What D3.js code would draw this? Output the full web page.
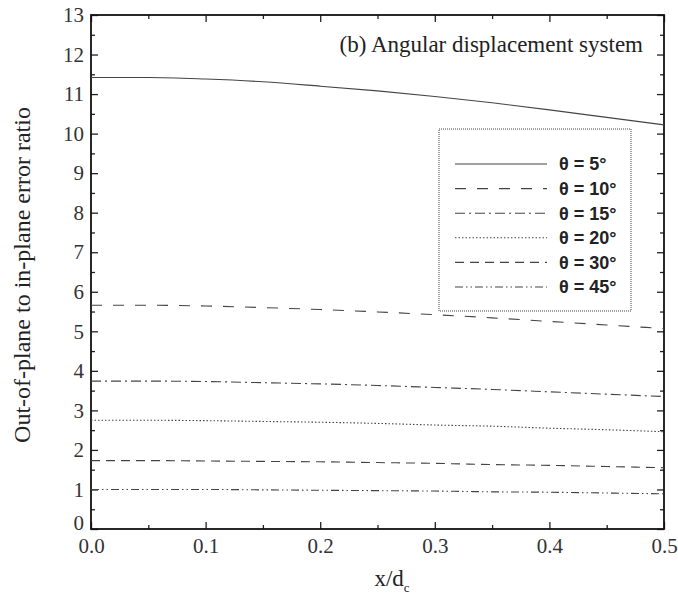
<!DOCTYPE html>
<html>
<head>
<meta charset="utf-8">
<script src="https://cdn.jsdelivr.net/npm/d3@7"></script>
<style>
  body { margin: 0; background: #fff; }
  svg { display: block; }
</style>
</head>
<body>
<div id="chart"></div>
<script>
// data
var xVals = [0, 0.05, 0.1, 0.15, 0.2, 0.25, 0.3, 0.35, 0.4, 0.45, 0.5];
var theta5  = [11.42, 11.42, 11.38, 11.31, 11.20, 11.08, 10.94, 10.78, 10.60, 10.41, 10.22];
var theta10 = [5.66, 5.66, 5.64, 5.60, 5.55, 5.49, 5.42, 5.34, 5.25, 5.16, 5.07];
var theta15 = [3.74, 3.74, 3.73, 3.70, 3.67, 3.63, 3.58, 3.53, 3.47, 3.41, 3.35];
var theta20 = [2.75, 2.75, 2.74, 2.72, 2.70, 2.67, 2.63, 2.60, 2.55, 2.51, 2.46];
var theta30 = [1.73, 1.73, 1.72, 1.71, 1.70, 1.68, 1.66, 1.63, 1.61, 1.58, 1.55];
var theta45 = [1.00, 1.00, 1.00, 0.99, 0.98, 0.97, 0.96, 0.94, 0.93, 0.91, 0.89];
var seriesNames = ["\u03b8 = 5\u00b0", "\u03b8 = 10\u00b0", "\u03b8 = 15\u00b0", "\u03b8 = 20\u00b0", "\u03b8 = 30\u00b0", "\u03b8 = 45\u00b0"];
var xTicks = [0, 0.1, 0.2, 0.3, 0.4, 0.5];
var yTicks = d3.range(0, 14);

var allSeries = [theta5, theta10, theta15, theta20, theta30, theta45];
var dashes = ["none", "11,11", "10,4,2,4", "1.5,2", "9,6", "8,3,1.5,3,1.5,3"];

var width = 678, height = 599;
var margin = {left: 91, top: 15, right: 14, bottom: 70};
var plotW = width - margin.left - margin.right;
var plotH = height - margin.top - margin.bottom;

var svg = d3.select("#chart").append("svg")
  .attr("width", width)
  .attr("height", height);

var x = d3.scaleLinear().domain([0, 0.5]).range([0, plotW]);
var y = d3.scaleLinear().domain([0, 13]).range([plotH, 0]);

var g = svg.append("g").attr("transform", "translate(" + margin.left + "," + margin.top + ")");

var serif = "'Liberation Serif', 'Times New Roman', serif";

// ticks on all four sides, pointing inwards
function addAxis(axis, tx, ty) {
  var ax = g.append("g").attr("transform", "translate(" + tx + "," + ty + ")").call(axis);
  ax.select(".domain").remove();
  ax.selectAll("line").attr("stroke", "#222").attr("stroke-width", 1.3);
  return ax;
}
var xMinor = d3.range(0.05, 0.5, 0.1);
var yMinor = d3.range(0.5, 13, 1);

var bottom = addAxis(d3.axisBottom(x).tickValues(xTicks).tickSize(-7).tickFormat(d3.format(".1f")), 0, plotH);
bottom.selectAll("text").attr("dy", "0.71em").attr("y", 9).style("font-family", serif).style("font-size", "21px").attr("fill", "#333");
addAxis(d3.axisBottom(x).tickValues(xMinor).tickSize(-4).tickFormat(""), 0, plotH);
addAxis(d3.axisTop(x).tickValues(xTicks).tickSize(-7).tickFormat(""), 0, 0);
addAxis(d3.axisTop(x).tickValues(xMinor).tickSize(-4).tickFormat(""), 0, 0);

var left = addAxis(d3.axisLeft(y).tickValues(yTicks).tickSize(-7).tickFormat(d3.format("d")), 0, 0);
left.selectAll("text").attr("x", -7).style("font-family", serif).style("font-size", "21px").attr("fill", "#333");
// the 0 label sits just above the 0.0 label at the corner
left.selectAll("text").filter(function(d) { return d === 0; }).attr("y", -6);
addAxis(d3.axisLeft(y).tickValues(yMinor).tickSize(-4).tickFormat(""), 0, 0);
addAxis(d3.axisRight(y).tickValues(yTicks).tickSize(-7).tickFormat(""), plotW, 0);
addAxis(d3.axisRight(y).tickValues(yMinor).tickSize(-4).tickFormat(""), plotW, 0);

// frame
g.append("rect")
  .attr("width", plotW).attr("height", plotH)
  .attr("fill", "none").attr("stroke", "#111").attr("stroke-width", 1.8);

// curves
var line = d3.line()
  .x(function(d, i) { return x(xVals[i]); })
  .y(function(d) { return y(d); })
  .curve(d3.curveMonotoneX);

g.selectAll(".curve").data(allSeries).enter().append("path")
  .attr("class", "curve")
  .attr("d", line)
  .attr("fill", "none")
  .attr("stroke", "#444")
  .attr("stroke-width", 1.1)
  .attr("stroke-dasharray", function(d, i) { return dashes[i]; });

// annotation
g.append("text")
  .attr("x", 552).attr("y", 37)
  .attr("text-anchor", "end")
  .style("font-family", serif).style("font-size", "23px").attr("fill", "#222")
  .text("(b) Angular displacement system");

// legend
var legend = svg.append("g").attr("transform", "translate(439,129)");
legend.append("rect")
  .attr("width", 192).attr("height", 182)
  .attr("fill", "#fff").attr("stroke", "#444").attr("stroke-width", 1)
  .attr("stroke-dasharray", "1,1");

var rows = legend.selectAll(".row").data(seriesNames).enter().append("g")
  .attr("class", "row")
  .attr("transform", function(d, i) { return "translate(0," + (35 + i * 24.6) + ")"; });
rows.append("line")
  .attr("x1", 16).attr("x2", 108)
  .attr("stroke", "#444").attr("stroke-width", 1.1)
  .attr("stroke-dasharray", function(d, i) { return dashes[i]; });
rows.append("text")
  .attr("x", 120).attr("dy", "0.36em")
  .style("font-family", "'Liberation Sans', Arial, sans-serif")
  .style("font-size", "18px").style("font-weight", "bold").attr("fill", "#222")
  .text(function(d) { return d; });

// axis titles
var xTitle = svg.append("text")
  .attr("x", 392).attr("y", 586)
  .attr("text-anchor", "middle")
  .style("font-family", serif).style("font-size", "23px").attr("fill", "#222");
xTitle.append("tspan").text("x/d");
xTitle.append("tspan").attr("dy", 6).style("font-size", "13px").text("c");

svg.append("text")
  .attr("transform", "translate(30," + (margin.top + 260) + ") rotate(-90)")
  .attr("text-anchor", "middle")
  .style("font-family", serif).style("font-size", "24px").attr("fill", "#222")
  .text("Out-of-plane to in-plane error ratio");
</script>
</body>
</html>
